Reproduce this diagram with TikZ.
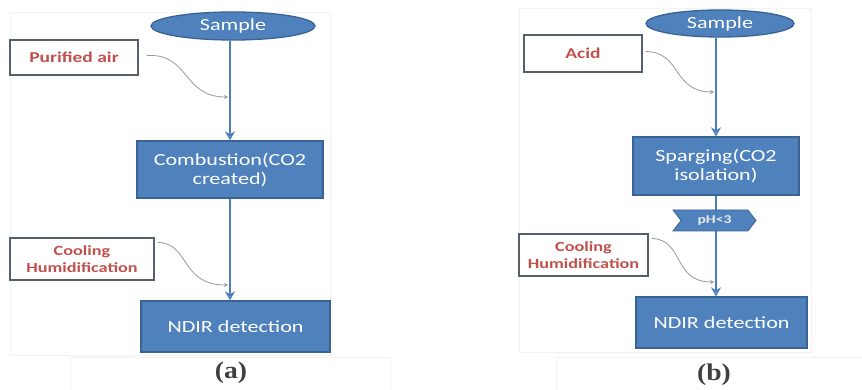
\documentclass[tikz,border=0pt]{standalone}
\usepackage{fontspec}
\setmainfont{Carlito}[FakeStretch=1.3]
\newfontfamily\labfont{Liberation Serif}[FakeStretch=1.15]
\usetikzlibrary{shapes.geometric,shapes.symbols,arrows.meta}
\definecolor{boxblue}{HTML}{4F81BD}
\definecolor{boxedge}{HTML}{3A6394}
\definecolor{linkblue}{HTML}{4A7EBB}
\definecolor{redtxt}{HTML}{C0504D}
\definecolor{inedge}{HTML}{56606C}
\definecolor{feedgray}{HTML}{9A9A9A}
\tikzset{
  blueproc/.style={draw=boxedge, line width=1.3pt, fill=boxblue, text=white,
    align=center, inner sep=0pt, font=\fontsize{17}{19}\selectfont},
  sampleell/.style={ellipse, draw=boxedge, line width=1.3pt, fill=boxblue, text=white,
    inner sep=0pt, font=\fontsize{17}{19}\selectfont},
  inbox/.style={draw=inedge, line width=1.3pt, fill=white, text=redtxt, align=center,
    inner sep=0pt, font=\bfseries\fontsize{15}{17}\selectfont},
  flow/.style={draw=linkblue, line width=2pt, -{Stealth[length=9pt,width=10pt,open]}},
  feed/.style={draw=feedgray, line width=0.8pt, -{Stealth[length=4pt,width=4pt]}},
  phsig/.style={signal, signal from=west, signal to=east, signal pointer angle=105,
    draw=boxedge, line width=0.8pt, fill=boxblue, text={black!8!white}, inner sep=0pt,
    font=\bfseries\fontsize{12}{14}\selectfont},
  panellab/.style={font=\labfont\bfseries\fontsize{24}{26}\selectfont, text=black!75},
  faint/.style={draw=black!5, line width=0.6pt}
}
\begin{document}
\begin{tikzpicture}[x=1pt,y=-1pt]
\useasboundingbox (0,0) rectangle (862,390);
\fill[white] (0,0) rectangle (862,390);
% faint frames
\draw[faint] (10,12) rectangle (330,355);
\draw[faint] (70,357) rectangle (390,392);
\draw[faint] (519,8) rectangle (811,352);
\draw[faint] (556,357) rectangle (864,392);

% ---------- panel (a)
\node[sampleell, minimum width=164pt, minimum height=28pt] (sampleA) at (233,26) {Sample};
\node[inbox, minimum width=128pt, minimum height=35pt] (airA) at (74,57.5) {Purified air};
\node[blueproc, minimum width=186pt, minimum height=57pt] (combA) at (230,169.5) {Combustion(CO2\\created)};
\node[inbox, minimum width=144pt, minimum height=42pt, font=\bfseries\fontsize{14}{17}\selectfont] (coolA) at (82,259) {Cooling\\Humidification};
\node[blueproc, minimum width=189pt, minimum height=51pt] (ndirA) at (235.5,326.5) {NDIR detection};
\coordinate (jA1) at (228,97);
\coordinate (jA2) at (228,285);
\draw[flow] (sampleA.south -| combA.north) -- (combA.north);
\draw[flow] (combA.south) -- (combA.south |- ndirA.north);
\draw[feed] (airA.east) ++(8,-2) .. controls (190,53) and (182,97) .. (jA1);
\draw[feed] (coolA.north east) ++(3,5) .. controls (190,243) and (180,285) .. (jA2);
\node[panellab] (labA) at (231,373) {(a)};

% ---------- panel (b)
\node[sampleell, minimum width=148pt, minimum height=27pt] (sampleB) at (720,23.5) {Sample};
\node[inbox, minimum width=118pt, minimum height=37pt] (acidB) at (583,53.5) {Acid};
\node[blueproc, minimum width=166pt, minimum height=58pt] (sparB) at (716,166) {Sparging(CO2\\isolation)};
\node[inbox, minimum width=129pt, minimum height=42pt, font=\bfseries\fontsize{14}{17}\selectfont] (coolB) at (583.5,255) {Cooling\\Humidification};
\node[blueproc, minimum width=171pt, minimum height=51pt] (ndirB) at (721.5,322.5) {NDIR detection};
\coordinate (jB1) at (714,92);
\coordinate (jB2) at (714,282);
\draw[flow] (sampleB.south -| sparB.north) -- (sparB.north);
\draw[flow] (sparB.south) -- (sparB.south |- ndirB.north);
\node[phsig, minimum width=83pt, minimum height=21pt] (phB) at (714.5,220.5) {pH<3};
\draw[feed] (acidB.east) ++(3,-2) .. controls (682,52) and (672,92) .. (jB1);
\draw[feed] (coolB.north east) ++(3,5) .. controls (685,240) and (672,282) .. (jB2);
\node[panellab] (labB) at (714,375) {(b)};
\end{tikzpicture}
\end{document}
